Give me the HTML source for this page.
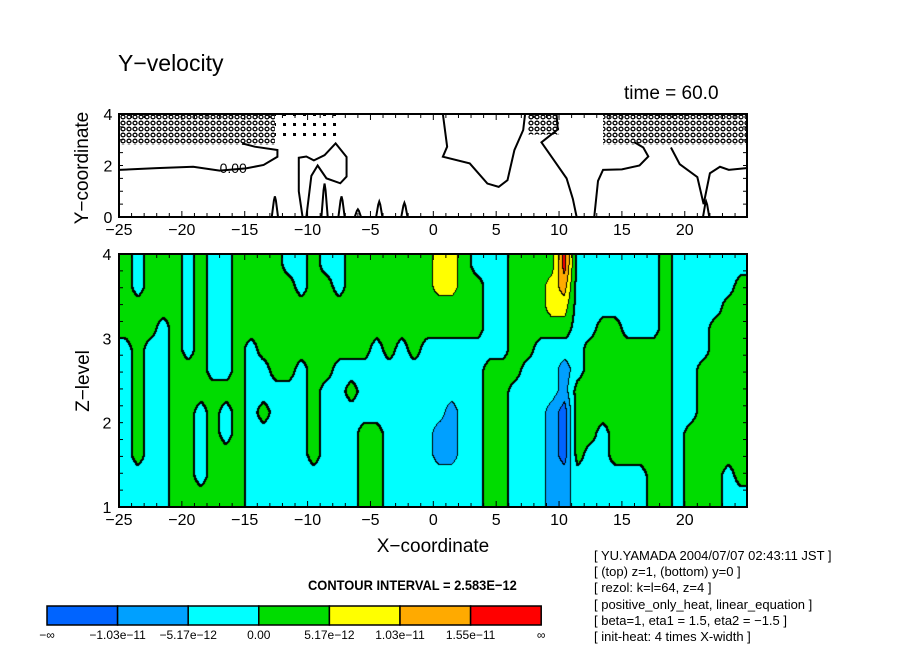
<!DOCTYPE html>
<html><head><meta charset="utf-8">
<style>
html,body{margin:0;padding:0;background:#fff;}
body{width:904px;height:654px;position:relative;overflow:hidden;font-family:"Liberation Sans",sans-serif;}
.t{position:absolute;white-space:nowrap;color:#000;}
</style></head>
<body>
<div class="t" style="left:118px;top:50px;font-size:23px;">Y−velocity</div>
<div class="t" style="left:624px;top:83px;font-size:19px;">time = 60.0</div>
<div class="t" style="left:308px;top:577px;font-size:14px;font-weight:bold;transform:scaleX(0.92);transform-origin:left;">CONTOUR INTERVAL = 2.583E−12</div>
<div style="position:absolute;left:594px;top:548px;font-size:13px;line-height:16.2px;white-space:pre;">[ YU.YAMADA 2004/07/07 02:43:11 JST ]
[ (top) z=1, (bottom) y=0 ]
[ rezol: k=l=64, z=4 ]
[ positive_only_heat, linear_equation ]
[ beta=1, eta1 = 1.5, eta2 = −1.5 ]
[ init-heat: 4 times X-width ]</div>
<canvas id="field" width="628" height="253" style="position:absolute;left:119px;top:254px;"></canvas>
<svg id="svg" width="904" height="654" style="position:absolute;left:0;top:0;">
<defs>
<pattern id="dots" width="6" height="6" patternUnits="userSpaceOnUse">
<ellipse cx="3" cy="3" rx="2" ry="1.8" fill="none" stroke="#000" stroke-width="1.3"/>
</pattern>
<pattern id="dots2" width="10" height="10" patternUnits="userSpaceOnUse">
<rect x="3" y="3" width="3" height="3" fill="#000"/>
</pattern>
</defs>
</svg>
<script>
// ---- data ----
const xTicks = [-25,-20,-15,-10,-5,0,5,10,15,20];
const zTicks = [1,2,3,4];
const yTicksTop = [0,2,4];
const colorLabels = ["−∞","−1.03e−11","−5.17e−12","0.00","5.17e−12","1.03e−11","1.55e−11","∞"];
const levelColors = ["#0064ff","#00a0ff","#00ffff","#00dc00","#ffff00","#ffaa00","#ff0000"];
// level index per x column (x=-25..24), rows top z=4 -> bottom z=1
const columnLevels = [
"333322222222","223333333322","333322222222","333222222222","333333333333",
"222223333333","333333322223","222222333333","222222322333","333333333333",
"333322222222","333332232222","333333222222","233333222222","223332222222",
"333333333322","233333222222","223332222222","333332322222","333332223333",
"333322223333","333332222222","333322222222","333332222222","333322222222",
"443322221122","443322211122","333322222222","233322222222","222223333333",
"222223333333","333333222222","333332222222","333322222222","344322211111",
"654321100011","222222333322","222233333222","222333332222","222333333322",
"222233333322","222233333322","222233333333","333333333333","222222222222",
"222222223333","222223333333","222333333333","223333333322","233333333332"];
const lineA = [[-25,1.83],[-22,1.9],[-19.1,1.95],[-17,1.8],[-14.9,1.89],[-13.5,2.02],[-12.4,2.34],[-12.4,2.6],[-14.2,2.73],[-15.2,2.86]];
const lineB = [[-10.4,0],[-10.7,1.0],[-10.7,2.3],[-10.1,2.35],[-9.5,2.2],[-8.65,2.4],[-7.77,2.86],[-6.9,2.33],[-6.9,1.57],[-7.4,1.31],[-8.5,1.5],[-9.2,2.0],[-9.7,1.6],[-10.1,0]];
const lineC = [[0.76,4],[1.1,2.73],[0.76,2.34],[2.9,2.08],[4.3,1.3],[5.2,1.17],[5.9,1.43],[6.45,2.6],[7.15,3.38],[7.3,4]];
const lineD = [[9.8,4],[9.9,3.4],[8.6,2.9],[9.6,2.2],[10.6,1.5],[11.1,0.7],[11.4,0]];
const lineE = [[12.8,0],[13.1,1.4],[13.5,1.83],[15,1.85],[16.4,2.0],[17.1,2.35],[16.7,2.7],[16,2.9]];
const lineF = [[18.9,2.7],[19.6,2.05],[21,1.55],[21.5,0.5],[22,1.7],[22.8,1.95],[23.5,1.83],[24.9,1.9]];
const spikeX = [-12.6,-8.65,-7.3,-6.0,-4.3,-2.3,21.7];
const spikeH = [0.8,1.3,0.8,0.3,0.6,0.55,0.6];
const dotRegions = [[-25,-12.6,2.8,4],[13.5,24.9,2.8,4],[7.5,10,3.2,4]];
const sparseRegions = [[-12.6,-7.5,3.0,4]];

// ---- axes ----
const X0=119,X1=747;
const sx = x => X0 + (x+25)*(X1-X0)/49.95;
const TY0=114,TY1=217; const syT = y => TY1 - y*(TY1-TY0)/4;
const BY0=254,BY1=507; const syB = z => BY1 - (z-1)*(BY1-BY0)/3;
const svg=document.getElementById('svg');
const NS='http://www.w3.org/2000/svg';
function mk(tag,attrs,parent){const e=document.createElementNS(NS,tag);for(const k in attrs)e.setAttribute(k,attrs[k]);(parent||svg).appendChild(e);return e;}

// ---- field ----
const cv=document.getElementById('field');const ctx=cv.getContext('2d');
const W=cv.width,H=cv.height,NC=columnLevels.length,NR=columnLevels[0].length;
const img=ctx.createImageData(W,H);
const idx=new Int8Array(W*H);
function val(c,r){c=Math.max(0,Math.min(NC-1,c));r=Math.max(0,Math.min(NR-1,r));return +columnLevels[c][r]+0.5;}
for(let py=0;py<H;py++){
  const fr=(py+0.5)/H*NR-0.5;const r0=Math.floor(fr);const tr=fr-r0;
  for(let px=0;px<W;px++){
    const fc=(px+0.5)/W*NC-0.5;const c0=Math.floor(fc);const tc=fc-c0;
    const u=(val(c0,r0)*(1-tc)+val(c0+1,r0)*tc)*(1-tr)+(val(c0,r0+1)*(1-tc)+val(c0+1,r0+1)*tc)*tr;
    idx[py*W+px]=Math.max(0,Math.min(6,Math.floor(u)));
  }
}
function hex(h){return [parseInt(h.substr(1,2),16),parseInt(h.substr(3,2),16),parseInt(h.substr(5,2),16)];}
const rgb=levelColors.map(hex);
for(let i=0;i<W*H;i++){const c=rgb[idx[i]];img.data[i*4]=c[0];img.data[i*4+1]=c[1];img.data[i*4+2]=c[2];img.data[i*4+3]=255;}
function setB(x,y){if(x<0||y<0||x>=W||y>=H)return;const i=(y*W+x)*4;img.data[i]=0;img.data[i+1]=0;img.data[i+2]=0;}
for(let y=0;y<H;y++)for(let x=0;x<W;x++){
  const a=idx[y*W+x];
  const b=x+1<W?idx[y*W+x+1]:a, d=y+1<H?idx[(y+1)*W+x]:a;
  if(a!==b||a!==d){
    const zero=((a>=3)!==(b>=3))||((a>=3)!==(d>=3));
    setB(x,y); if(zero){setB(x+1,y);setB(x,y+1);setB(x+1,y+1);}
  }
}
ctx.putImageData(img,0,0);

// ---- frames ----
mk('rect',{x:X0,y:TY0,width:X1-X0,height:TY1-TY0,fill:'none',stroke:'#000','stroke-width':2,});
mk('rect',{x:X0,y:BY0,width:X1-X0,height:BY1-BY0,fill:'none',stroke:'#000','stroke-width':2,});

dotRegions.forEach(g=>{const e=mk('rect',{x:sx(g[0]),y:syT(g[3]),width:sx(g[1])-sx(g[0]),height:syT(g[2])-syT(g[3]),fill:'url(#dots)'});

});
sparseRegions.forEach(g=>{const e=mk('rect',{x:sx(g[0]),y:syT(g[3]),width:sx(g[1])-sx(g[0]),height:syT(g[2])-syT(g[3]),fill:'url(#dots2)'});

});

[lineA,lineB,lineC,lineD,lineE,lineF].forEach((ln,i)=>{
  const e=mk('polyline',{points:ln.map(p=>sx(p[0])+','+syT(p[1])).join(' '),fill:'none',stroke:'#000','stroke-width':2});
  
  
});
spikeX.forEach((x,i)=>{
  const h=spikeH[i];
  const e=mk('polyline',{points:[[x-0.25,0],[x-0.08,h*0.8],[x,h],[x+0.08,h*0.8],[x+0.25,0]].map(p=>sx(p[0])+','+syT(p[1])).join(' '),fill:'none',stroke:'#000','stroke-width':2});
  
  
});
const lbl=mk('text',{x:sx(-17),y:syT(1.7),'font-size':14,'font-family':'Liberation Sans, sans-serif'});lbl.textContent='0.00';



for(let x=-25;x<=24;x++){
  [[TY0,1],[TY1,-1],[BY0,1],[BY1,-1]].forEach(([y,s])=>{
    const len=(x%5===0)?6:4;
    mk('line',{x1:sx(x),x2:sx(x),y1:y,y2:y+s*len,stroke:'#000','stroke-width':1});
  });
}
for(let z=1;z<=4.001;z+=0.2){mk('line',{x1:X0,x2:X0+4,y1:syB(z),y2:syB(z),stroke:'#000'});mk('line',{x1:X1,x2:X1-4,y1:syB(z),y2:syB(z),stroke:'#000'});}
for(let y=0;y<=4.001;y+=0.5){mk('line',{x1:X0,x2:X0+4,y1:syT(y),y2:syT(y),stroke:'#000'});mk('line',{x1:X1,x2:X1-4,y1:syT(y),y2:syT(y),stroke:'#000'});}

function txt(s,x,y,size,anchor,name){const e=mk('text',{x:x,y:y,'font-size':size,'text-anchor':anchor||'middle','font-family':'Liberation Sans, sans-serif'});e.textContent=s;

return e;}
xTicks.forEach(x=>{txt(String(x).replace('-','−'),sx(x),235,16,'middle','x-tick-top');txt(String(x).replace('-','−'),sx(x),525,16,'middle','x-tick-bottom');});
yTicksTop.forEach(y=>txt(String(y),108,syT(y)+6,16,'middle','y-tick-top'));
zTicks.forEach(z=>txt(String(z),107,syB(z)+6,16,'middle','z-tick'));
txt('X−coordinate',433,552,19,'middle','x-axis-title');
const yt=txt('Y−coordinate',0,0,19,'middle','y-axis-title-top');yt.setAttribute('transform','translate(88,168) rotate(-90)');
const zt=txt('Z−level',0,0,19,'middle','z-axis-title');zt.setAttribute('transform','translate(89,381) rotate(-90)');

const CB0=47,CBW=70.6;
levelColors.forEach((c,i)=>{const e=mk('rect',{x:CB0+i*CBW,y:606,width:CBW,height:19,fill:c,stroke:'#000','stroke-width':1.5});

});
colorLabels.forEach((s,i)=>txt(s,CB0+i*CBW,639,12,'middle','colorbar-label'));
</script>
</body></html>
